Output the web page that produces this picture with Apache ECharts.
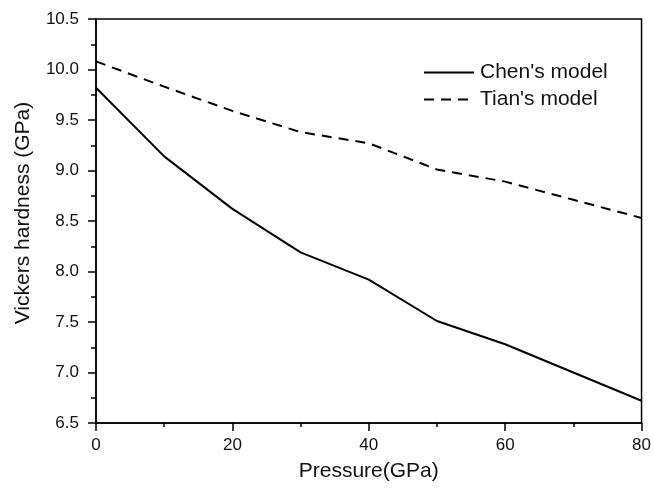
<!DOCTYPE html>
<html>
<head>
<meta charset="utf-8">
<script src="https://cdn.jsdelivr.net/npm/echarts@6/dist/echarts.min.js"></script>
<style>
  html, body { margin: 0; padding: 0; background: #fff; }
  #chart { width: 654px; height: 491px; }
</style>
</head>
<body>
<div id="chart"></div>
<script>
// Pressure points (GPa)
const pressure = [0, 10, 20, 30, 40, 50, 60, 70, 80];
// Vickers hardness (GPa) from two models
const chenModel = [9.82, 9.14, 8.62, 8.19, 7.92, 7.51, 7.28, 7.00, 6.72];
const tianModel = [10.08, 9.83, 9.59, 9.38, 9.27, 9.01, 8.89, 8.71, 8.53];

const font = 'Liberation Sans, Arial, sans-serif';
const chart = echarts.init(document.getElementById('chart'));

const pairs = (ys) => pressure.map((x, i) => [x, ys[i]]);

chart.setOption({
  animation: false,
  backgroundColor: '#fff',
  grid: {
    left: 96, right: 11, top: 19, bottom: 68,
    show: true, borderColor: '#000', borderWidth: 1.5
  },
  legend: {
    left: 423, top: 62, padding: 0, orient: 'vertical', itemGap: 6,
    itemWidth: 50, itemHeight: 14,
    itemStyle: { opacity: 0 },
    textStyle: { fontFamily: font, fontSize: 21, lineHeight: 21, color: '#111', padding: [0, 0, 0, 1] },
    data: ["Chen's model", "Tian's model"]
  },
  xAxis: {
    type: 'value', min: 0, max: 80, interval: 20,
    name: 'Pressure(GPa)', nameLocation: 'middle', nameGap: 38,
    nameTextStyle: { fontFamily: font, fontSize: 21, color: '#111' },
    axisLine: { lineStyle: { color: '#000', width: 1.5 } },
    axisTick: { length: 8, lineStyle: { color: '#000', width: 1.5 } },
    minorTick: { show: true, splitNumber: 2, length: 4, lineStyle: { color: '#000', width: 1.5 } },
    axisLabel: { fontFamily: font, fontSize: 17, color: '#111', margin: 14 },
    splitLine: { show: false }
  },
  yAxis: {
    type: 'value', min: 6.5, max: 10.5, interval: 0.5,
    name: 'Vickers hardness (GPa)', nameLocation: 'middle', nameGap: 62,
    nameTextStyle: { fontFamily: font, fontSize: 21, color: '#111', padding: [0, 0, 0, 16] },
    axisLine: { lineStyle: { color: '#000', width: 1.5 } },
    axisTick: { length: 8, lineStyle: { color: '#000', width: 1.5 } },
    minorTick: { show: true, splitNumber: 2, length: 5, lineStyle: { color: '#000', width: 1.5 } },
    axisLabel: {
      fontFamily: font, fontSize: 17, color: '#111', margin: 17,
      formatter: (v) => v.toFixed(1)
    },
    splitLine: { show: false }
  },
  series: [
    {
      name: "Chen's model", type: 'line', data: pairs(chenModel),
      symbol: 'none', lineStyle: { color: '#000', width: 2, type: 'solid' },
      itemStyle: { color: '#000' }
    },
    {
      name: "Tian's model", type: 'line', data: pairs(tianModel),
      symbol: 'none', lineStyle: { color: '#000', width: 2, type: [10, 7] },
      itemStyle: { color: '#000' }
    }
  ]
});
</script>
</body>
</html>
